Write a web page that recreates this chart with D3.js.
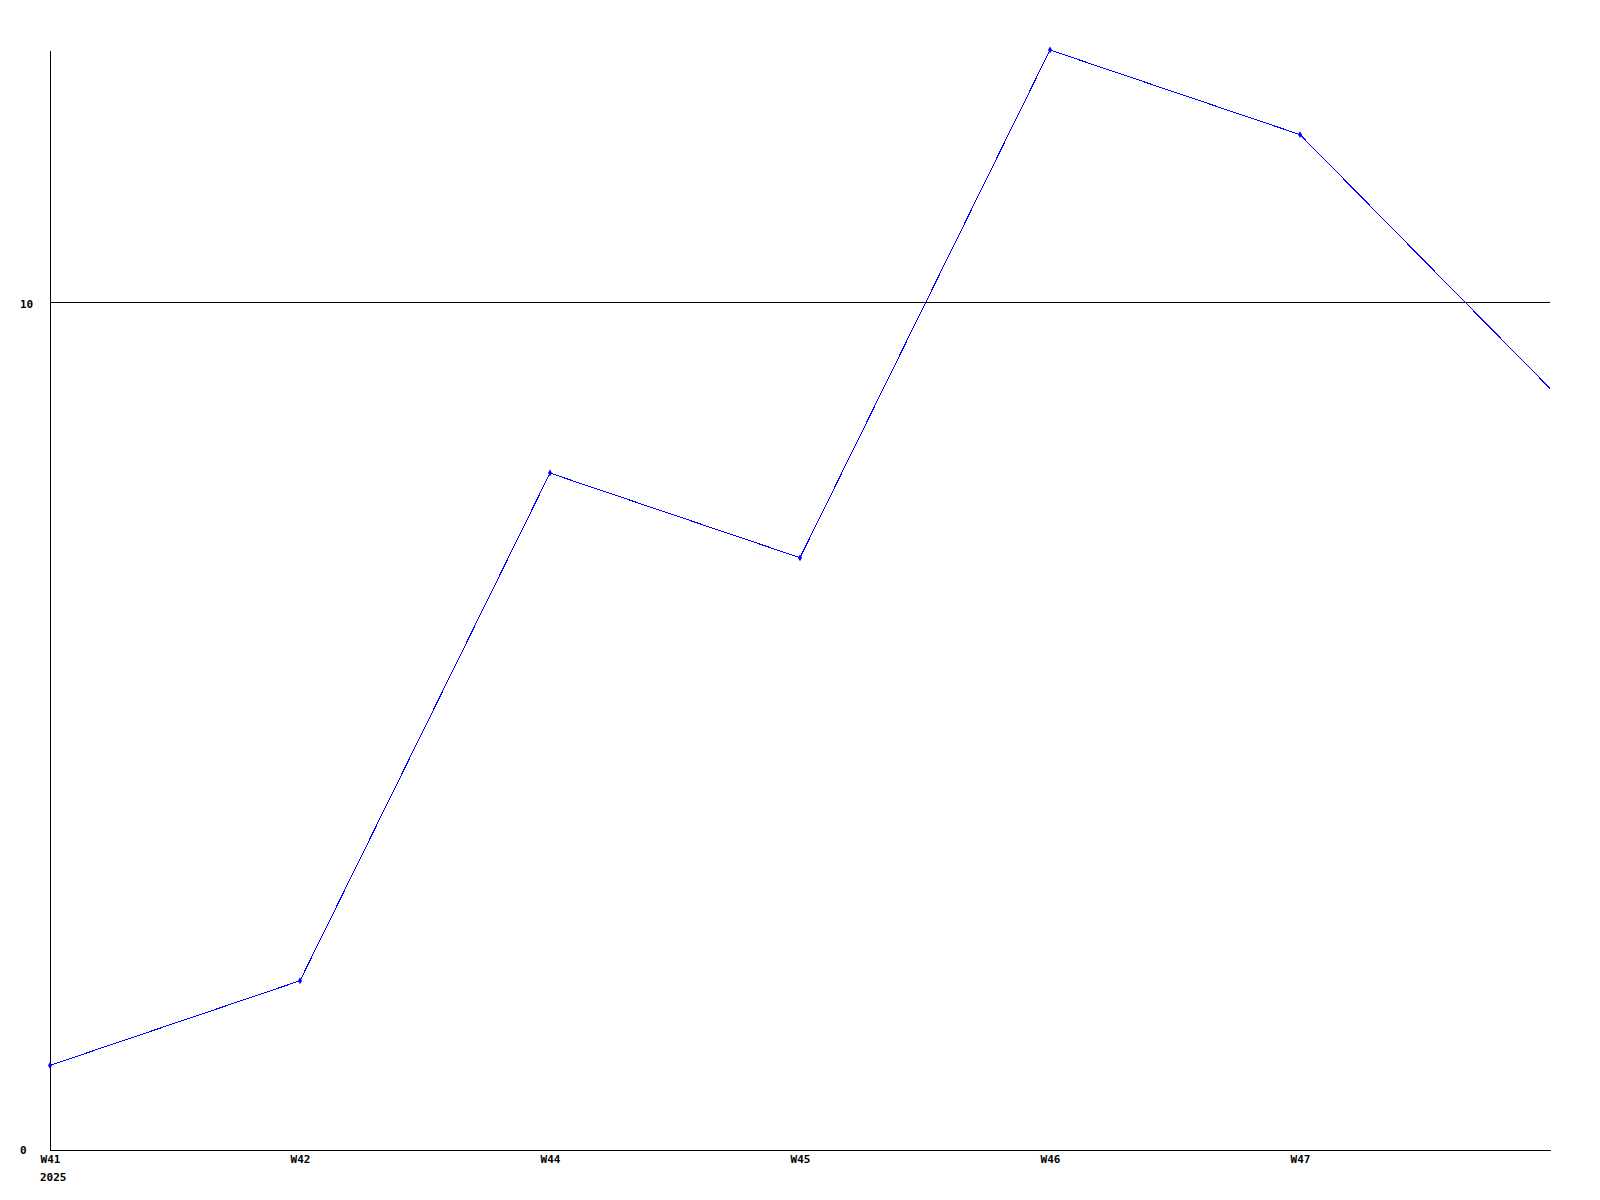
<!DOCTYPE html>
<html>
<head>
<meta charset="utf-8">
<script src="https://cdn.jsdelivr.net/npm/d3@7"></script>
<style>
  body { margin: 0; background: #fff; }
  text { font-family: "DejaVu Sans Mono", "Liberation Mono", monospace; font-weight: bold; font-size: 11px; fill: #000; }
</style>
</head>
<body>
<svg id="chart"></svg>
<script>
// week positions along the x axis (the last one runs to the right edge, unlabelled)
const weekIndex = [0, 1, 2, 3, 4, 5, 6];
const weekLabels = ["W41", "W42", "W44", "W45", "W46", "W47"];
const yearLabel = "2025";
const values = [1, 2, 8, 7, 13, 12, 9];
const yTicks = [0, 10];

const width = 1600, height = 1200;
const margin = { top: 50, right: 50, bottom: 50, left: 50 };

const svg = d3.select("#chart")
    .attr("width", width)
    .attr("height", height);

const x = d3.scaleLinear()
    .domain([0, 6])
    .range([margin.left, width - margin.right]);

const y = d3.scaleLinear()
    .domain([0, 13])
    .range([height - margin.bottom, margin.top]);

// horizontal grid line at 10
svg.append("g")
    .selectAll("line")
    .data(yTicks.filter(d => d > 0))
    .join("line")
    .attr("x1", margin.left)
    .attr("x2", width - margin.right)
    .attr("y1", d => Math.floor(y(d)) - 0.5)
    .attr("y2", d => Math.floor(y(d)) - 0.5)
    .attr("stroke", "#000")
    .attr("shape-rendering", "crispEdges");

// y axis
const yAxis = svg.append("g")
    .attr("transform", `translate(${margin.left},0)`)
    .call(d3.axisLeft(y).tickValues(yTicks).tickSize(0).tickPadding(0).tickFormat(d3.format("d")));
yAxis.select(".domain").attr("stroke", "#000").attr("shape-rendering", "crispEdges");
yAxis.selectAll("text")
    .attr("x", -30)
    .attr("text-anchor", "start")
    .attr("dy", "0.35em");

// x axis
const xAxis = svg.append("g")
    .attr("transform", `translate(0,${height - margin.bottom})`)
    .call(d3.axisBottom(x).tickValues(weekIndex.slice(0, weekLabels.length))
        .tickSize(0).tickPadding(9).tickFormat(i => weekLabels[i]));
xAxis.select(".domain").attr("stroke", "#000").attr("shape-rendering", "crispEdges");
xAxis.selectAll("text").attr("dy", "0.35em");

// year under the first week
svg.append("text")
    .attr("x", x(0) - 10)
    .attr("y", height - margin.bottom + 27)
    .attr("dy", "0.35em")
    .text(yearLabel);

const data = weekIndex.map((w, i) => ({ w, v: values[i] }));

svg.append("path")
    .datum(data)
    .attr("fill", "none")
    .attr("stroke", "#0000ff")
    .attr("stroke-width", 1)
    .attr("shape-rendering", "crispEdges")
    .attr("d", d3.line().x(d => x(d.w)).y(d => y(d.v)));

// markers only on the labelled weeks
svg.selectAll(".pt")
    .data(data.slice(0, weekLabels.length))
    .join("path")
    .attr("class", "pt")
    .attr("transform", d => `translate(${x(d.w)},${y(d.v)})`)
    .attr("d", d3.symbol(d3.symbolDiamond, 14))
    .attr("fill", "#0000ff");
</script>
</body>
</html>
